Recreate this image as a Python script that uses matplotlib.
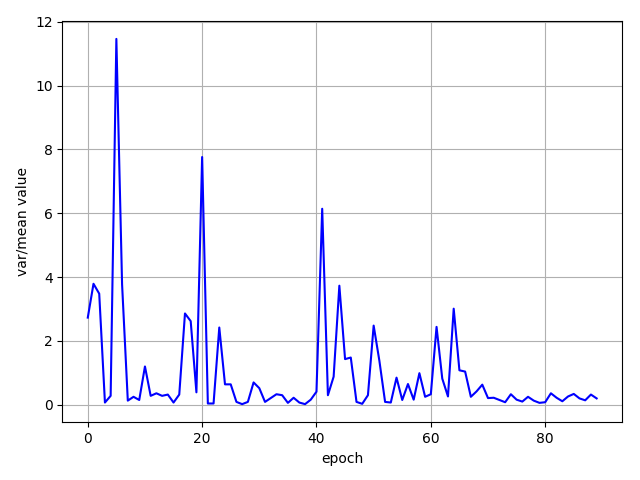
import matplotlib
matplotlib.use('Agg')
import matplotlib.pyplot as plt

# var/mean per epoch
values = [2.73, 3.79, 3.48, 0.07, 0.28, 11.46, 3.77, 0.13, 0.25, 0.15,
          1.20, 0.28, 0.36, 0.28, 0.32, 0.07, 0.32, 2.86, 2.62, 0.39,
          7.76, 0.04, 0.04, 2.42, 0.64, 0.64, 0.09, 0.02, 0.09, 0.70,
          0.52, 0.09, 0.21, 0.33, 0.30, 0.06, 0.22, 0.07, 0.02, 0.16,
          0.41, 6.14, 0.30, 0.88, 3.73, 1.43, 1.48, 0.09, 0.03, 0.30,
          2.48, 1.38, 0.09, 0.07, 0.85, 0.15, 0.65, 0.16, 0.99, 0.25,
          0.33, 2.44, 0.82, 0.26, 3.01, 1.08, 1.04, 0.25, 0.42, 0.63,
          0.21, 0.22, 0.15, 0.08, 0.33, 0.16, 0.10, 0.25, 0.13, 0.06,
          0.08, 0.36, 0.22, 0.11, 0.26, 0.34, 0.20, 0.14, 0.32, 0.20]
epochs = list(range(len(values)))

fig, ax = plt.subplots(figsize=(6.4, 4.8), dpi=100)
ax.plot(epochs, values, color='b')
ax.set_xlabel('epoch')
ax.set_ylabel('var/mean value')
ax.grid(True)
fig.subplots_adjust(left=0.0974, right=0.972, top=0.957, bottom=0.12)
fig.savefig('out.png')
